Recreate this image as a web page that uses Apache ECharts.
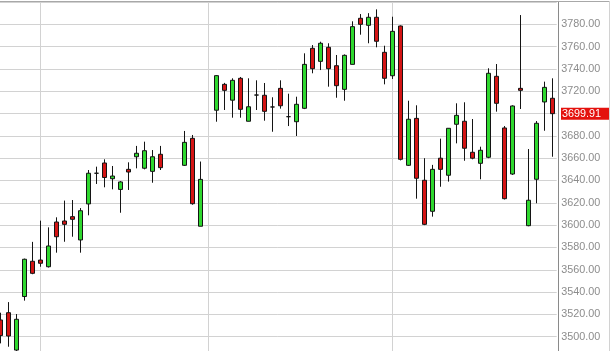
<!DOCTYPE html>
<html>
<head>
<meta charset="utf-8">
<script src="https://cdn.jsdelivr.net/npm/echarts@6/dist/echarts.min.js"></script>
<style>
html,body{margin:0;padding:0;background:#fff;}
#chart{width:616px;height:351px;}
</style>
</head>
<body>
<div id="chart"></div>
<script>
// Daily candles (null = no session drawn)
const opens  = [3515,3521.5,3488,3536,3567.6,3568.7,3562.7,3602.8,3603.7,3607.6,3586.7,3619,3646.5,3655.7,3641.6,3632,3650,3661.3,3651,3648.2,3663.5,null,null,3653.6,3677.8,3599,null,3703,3726.2,3712,3731.6,3693.1,3716.6,3716.4,3705.9,3722.6,3697.2,3692.7,3704.7,3758.5,3746.8,3759.4,3742.9,3721.7,3744.1,3785.4,3779.1,3786.3,3754.9,3733.9,3778.5,3653.6,3695.7,3640.2,3612.4,3660,3644.7,3690.4,3693.1,3665.3,3655.4,3660.8,3733.4,3687.1,3645.8,3722.6,3599.5,3641.1,3710.4,3713.7];
const closes = [3501,3500.6,3515.6,3569.4,3556.8,3565.8,3581.3,3589.6,3600.7,3605.2,3612.9,3646.5,3646.5,3642.7,3644,3638.7,3647.6,3664.4,3666.7,3661.3,3651.5,null,null,3674.2,3619.2,3641,null,3734,3720.8,3729.8,3703.8,3706.1,3716.6,3702,3705.9,3707,3697.2,3708.3,3744.1,3740.2,3763,3740.2,3725,3752.2,3777.9,3780,3786.3,3764.8,3731.6,3773.7,3659,3694.9,3642,3600.7,3650,3650,3686.8,3698.4,3668.9,3660,3667.1,3736.1,3709.2,3623.7,3706.8,3720.8,3622.3,3691.3,3723.5,3699.91];
const lows   = [3494,3491,3486,3532.3,3556,3562.7,3562,3575.3,3585.1,3589.6,3575.3,3608.8,3636.9,3633.9,3632.1,3611.1,3631.5,3650.9,3650,3638,3649.4,null,null,3653,3618.3,3599,null,3692.7,3703.2,3696.3,3696.3,3693,3703.2,3693.6,3683.7,3704.4,3688.8,3679.9,3704,3736.1,3739,3724.1,3714.2,3711.5,3744,3770.7,3763,3759.4,3726.2,3731,3658,3653,3623.7,3600,3607.6,3634.4,3639,3673.3,3657.7,3659,3641.1,3660,3701.7,3623,3645,3704.1,3599,3619.6,3684.6,3661.3];
const highs  = [3521.5,3531,3520.3,3570,3585,3604,3598,3607,3622,3622.5,3615.3,3649.4,3652.4,3659,3653,3639.5,3656.3,3671,3674.8,3667.3,3671,null,null,3684.4,3680.8,3657,null,3734.5,3727.5,3731.6,3732.8,3731.6,3729.8,3727.4,3714.6,3729.8,3717.8,3715.1,3754,3761.4,3764.4,3763,3752.5,3753,3782.7,3789.2,3790,3793.4,3760.8,3786.8,3779,3711.5,3707.4,3660,3654,3677.5,3687,3709.2,3710.1,3695.1,3670.3,3740.6,3744.4,3688.8,3707.4,3788.3,3668.2,3693.3,3728.6,3731.6];
const monthStarts = [5, 26, 49];
const yTicks = {min: 3480, max: 3800, step: 20};
const lastPrice = 3699.91;
const categories = opens.map((_, i) => 'Day ' + (i + 1));

const candleData = opens.map((o, i) =>
  o === null ? '-' : [o, closes[i], lows[i], highs[i]]);

const chart = echarts.init(document.getElementById('chart'), null, {renderer: 'canvas'});
chart.setOption({
  animation: false,
  backgroundColor: '#ffffff',
  grid: {left: -3.3, top: 2, width: 560, height: 357, outerBoundsMode: 'none', containLabel: false},
  xAxis: {
    type: 'category', data: categories, boundaryGap: true,
    axisLine: {show: false}, axisTick: {show: false}, axisLabel: {show: false},
    splitLine: {show: false}
  },
  yAxis: {
    type: 'value', position: 'right', offset: 1.6,
    min: yTicks.min, max: yTicks.max, interval: yTicks.step,
    axisLine: {show: true, lineStyle: {color: '#8a8a8a', width: 1}},
    axisTick: {show: false},
    axisLabel: {
      margin: 3, color: '#8c8c8c', fontSize: 10.8, fontFamily: 'Liberation Sans, Arial, sans-serif',
      showMaxLabel: false, showMinLabel: false,
      formatter: v => v.toFixed(2)
    },
    splitLine: {show: true, lineStyle: {color: '#d2d2d2', width: 1}}
  },
  series: [
    {
      type: 'line', data: [], z: 1, silent: true,
      markLine: {
        silent: true, symbol: ['none', 'none'], z: 1, animation: false,
        label: {show: false},
        lineStyle: {color: '#d2d2d2', width: 1, type: 'solid'},
        data: monthStarts.map(i => ({xAxis: i}))
      }
    },
    {
      type: 'candlestick', z: 3,
      data: candleData,
      barWidth: 5,
      itemStyle: {
        color: '#2fd82f', color0: '#d41414',
        borderColor: '#141414', borderColor0: '#141414', borderColorDoji: '#141414',
        borderWidth: 1
      },
      markLine: {
        silent: true, symbol: ['none', 'none'], z: 6, animation: false,
        lineStyle: {color: 'rgba(0,0,0,0)', width: 0},
        label: {
          show: true, position: 'end', distance: 4.3,
          formatter: () => lastPrice.toFixed(2),
          color: '#ffffff', backgroundColor: '#e4120e',
          fontSize: 10.8, fontFamily: 'Liberation Sans, Arial, sans-serif',
          lineHeight: 12, padding: [0, 8, 0, 1]
        },
        data: [{yAxis: lastPrice}]
      }
    }
  ],
  graphic: [
    {type: 'line', shape: {x1: 0, y1: 1.5, x2: 610, y2: 1.5}, style: {stroke: '#a8a8a8', lineWidth: 1}, silent: true, z: 10},
    {type: 'line', shape: {x1: 609.5, y1: 1, x2: 609.5, y2: 351}, style: {stroke: '#d2d2d2', lineWidth: 1}, silent: true, z: 10}
  ]
});
</script>
</body>
</html>
